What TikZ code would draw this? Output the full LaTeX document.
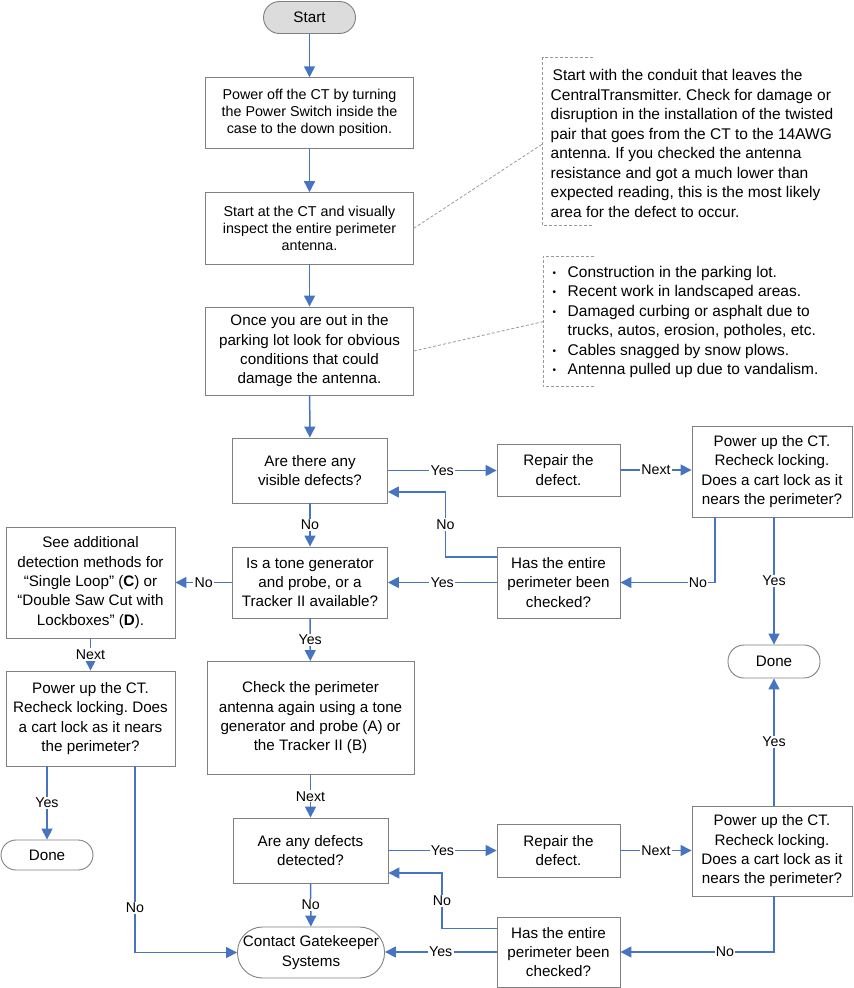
\documentclass[tikz,border=0pt]{standalone}
\usepackage{fontspec}
\setmainfont{Liberation Sans}
\usetikzlibrary{arrows.meta}
\definecolor{flowblue}{HTML}{4674C1}
\definecolor{boxgray}{HTML}{808080}
\definecolor{startfill}{HTML}{DCDCDC}
\definecolor{notegray}{HTML}{9A9A9A}
\newcommand\fA{\fontsize{14.3}{17.2}\selectfont}
\newcommand\fB{\fontsize{15.2}{19.3}\selectfont}
\newcommand\fN{\fontsize{15.5}{19.5}\selectfont}
\newcommand\fL{\fontsize{14.2}{16}\selectfont}
\newcommand\bul{\makebox[15pt][l]{\fontsize{10}{10}\selectfont\raisebox{1pt}{•}}}
\frenchspacing
\begin{document}
\frenchspacing
\begin{tikzpicture}[x=1pt,y=-1pt,
  box/.style={draw=boxgray, line width=0.9pt, align=center, inner sep=0pt, font=\fB},
  term/.style={box, rounded corners=15pt},
  flow/.style={draw=flowblue, line width=1.5pt, -{Triangle[length=11pt,width=11pt]}},
  lbl/.style={fill=white, inner sep=1.2pt, font=\fL, text=black},
  notebr/.style={draw=notegray, line width=0.8pt, dash pattern=on 3pt off 2pt},
  notetext/.style={align=left, inner sep=0pt, font=\fN}]
\useasboundingbox (0,0) rectangle (854,988);

% main column
\node[term, fill=startfill, minimum width=92, minimum height=32, rounded corners=16pt] (start) at (309.5,17.5) {Start};
\node[box, font=\fA, minimum width=207.6, minimum height=70.6] (b1) at (309.5,113) {Power off the CT by turning\\the Power Switch inside the\\case to the down position.};
\node[box, font=\fA, minimum width=207.6, minimum height=71.3] (b2) at (309.5,228.3) {Start at the CT and visually\\inspect the entire perimeter\\antenna.};
\node[box, minimum width=207.6, minimum height=88] (b3) at (309.5,351) {Once you are out in the\\parking lot look for obvious\\conditions that could\\damage the antenna.};
\node[box, minimum width=155, minimum height=65] (d1) at (310,470.5) {Are there any\\visible defects?};
\node[box, minimum width=123, minimum height=52] (r1) at (558.5,470) {Repair the\\defect.};
\node[box, minimum width=160, minimum height=91] (p1) at (772,471.5) {Power up the CT.\\Recheck locking.\\Does a cart lock as it\\nears the perimeter?};
\node[box, minimum width=123, minimum height=71] (c1) at (558.5,582.5) {Has the entire\\perimeter been\\checked?};
\node[box, minimum width=155, minimum height=71] (d2) at (310,582.5) {Is a tone generator\\and probe, or a\\Tracker II available?};
\node[box, minimum width=169, minimum height=111] (L1) at (90.5,582.5) {See additional\\detection methods for\\“Single Loop” (\textbf{C}) or\\“Double Saw Cut with\\Lockboxes” (\textbf{D}).};
\node[box, minimum width=169, minimum height=95] (L2) at (90.5,718.5) {Power up the CT.\\Recheck locking. Does\\a cart lock as it nears\\the perimeter?};
\node[term, minimum width=92, minimum height=30] (ldone) at (47,855) {Done};
\node[term, minimum width=92, minimum height=33, rounded corners=16pt] (rdone) at (774,661.5) {Done};
\node[box, minimum width=207, minimum height=113] (ck) at (310.5,718) {Check the perimeter\\antenna again using a tone\\generator and probe (A) or\\the Tracker II (B)};
\node[box, minimum width=155, minimum height=65] (d3) at (310.5,850.5) {Are any defects\\detected?};
\node[box, minimum width=123, minimum height=53] (r2) at (558.5,850.5) {Repair the\\defect.};
\node[box, minimum width=160, minimum height=90] (p2) at (772,851) {Power up the CT.\\Recheck locking.\\Does a cart lock as it\\nears the perimeter?};
\node[box, minimum width=123, minimum height=70] (c2) at (558.5,952) {Has the entire\\perimeter been\\checked?};
\node[term, minimum width=147, minimum height=51, rounded corners=25pt] (contact) at (311,952.5) {Contact Gatekeeper\\Systems};

% notes
\node[notetext, anchor=west] (n1) at (550.5,143.4) {\hspace*{2pt}Start with the conduit that leaves the\\CentralTransmitter. Check for damage or\\disruption in the installation of the twisted\\pair that goes from the CT to the 14AWG\\antenna. If you checked the antenna\\resistance and got a much lower than\\expected reading, this is the most likely\\area for the defect to occur.};
\draw[notebr] (593,57.3) -- (542.5,57.3) -- (542.5,225) -- (593,225);
\coordinate (n1a) at (542.5,144);
\node[notetext, anchor=west] (n2) at (552.5,322.2) {\bul Construction in the parking lot.\\\bul Recent work in landscaped areas.\\\bul Damaged curbing or asphalt due to\\\hspace*{15pt}trucks, autos, erosion, potholes, etc.\\\bul Cables snagged by snow plows.\\\bul Antenna pulled up due to vandalism.};
\draw[notebr] (594,256) -- (543,256) -- (543,386.7) -- (594,386.7);
\coordinate (n2a) at (543,321.7);
\draw[notebr] (b2.east) -- (n1a);
\draw[notebr] (b3.east) -- (n2a);

% connectors
\draw[flow] (start) -- (b1);
\draw[flow] (b1) -- (b2);
\draw[flow] (b2) -- (b3);
\draw[flow] (b3) -- (d1);
\draw[flow] (d1.east) -- (d1.east -| r1.west) node[lbl, midway] {Yes};
\draw[flow] (r1.east) -- (r1.east -| p1.west) node[lbl, midway] {Next};
\draw[flow] ([xshift=-57pt]p1.south) |- (c1.east) node[lbl, pos=0.59] {No};
\draw[flow] (rdone.north |- p1.south) -- (rdone.north) node[lbl, midway] {Yes};
\draw[flow] (c1.west) -- (d2.east) node[lbl, midway] {Yes};
\draw[flow] ([yshift=-10.5pt]c1.north west) -- ++(-51,0) |- ([yshift=-21.5pt]d1.east) node[lbl, pos=0.25] {No};
\draw[flow] (d1) -- (d2) node[lbl, midway] {No};
\draw[flow] (d2) -- (L1) node[lbl, midway] {No};
\draw[flow] (L1) -- (L2) node[lbl, midway] {Next};
\draw[flow] (ldone.north |- L2.south) -- (ldone.north) node[lbl, midway] {Yes};
\draw[flow] ([xshift=44.5pt]L2.south) |- (contact.west) node[lbl, pos=0.38] {No};
\draw[flow] (d2) -- (ck) node[lbl, midway] {Yes};
\draw[flow] (ck) -- (d3) node[lbl, midway] {Next};
\draw[flow] (d3.east) -- (d3.east -| r2.west) node[lbl, midway] {Yes};
\draw[flow] (r2.east) -- (r2.east -| p2.west) node[lbl, midway] {Next};
\draw[flow] (rdone.south |- p2.north) -- (rdone.south) node[lbl, midway] {Yes};
\draw[flow] (rdone.south |- p2.south) |- (c2.east) node[lbl, pos=0.66] {No};
\draw[flow] (c2.west) -- (c2.west -| contact.east) node[lbl, midway] {Yes};
\draw[flow] ([yshift=-12pt]c2.north west) -- ++(-54.5,0) |- ([yshift=-22.5pt]d3.east) node[lbl, pos=0.25] {No};
\draw[flow] (d3) -- (contact) node[lbl, midway] {No};
\end{tikzpicture}
\end{document}
